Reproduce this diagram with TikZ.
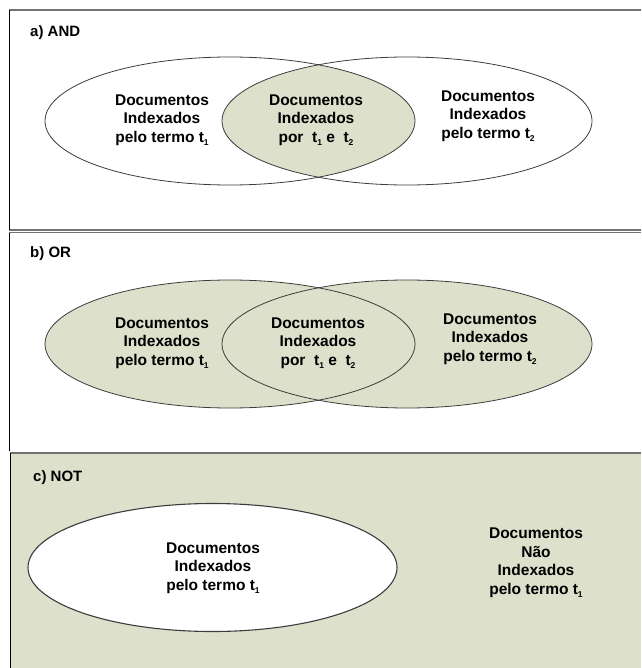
\documentclass[tikz,border=0pt]{standalone}
\usepackage{fontspec}
\setmainfont{Liberation Sans}
\definecolor{venn}{RGB}{221,224,203}
\definecolor{rim}{RGB}{60,60,60}
\newcommand{\idx}[1]{\raisebox{-0.4ex}{\fontsize{8.5}{8.5}\selectfont #1}}
\begin{document}
\begin{tikzpicture}[x=1pt,y=-1pt,
  panelrule/.style={draw=black!55, line width=1.8pt},
  sidebar/.style={draw=black, line width=1pt},
  setline/.style={draw=rim, line width=0.8pt},
  setlabel/.style={font=\bfseries\fontsize{15.5}{18.5}\selectfont, align=center, inner sep=0pt},
  tag/.style={font=\bfseries\fontsize{15}{17}\selectfont, anchor=west, inner sep=0pt}]
\useasboundingbox (0,0) rectangle (641,668);

% ---------- panel frames ----------
\fill[venn] (10,453) rectangle (641,668);
\draw[panelrule] (9,10) -- (641,10);
\draw[panelrule] (9,230) -- (641,230);
\draw[panelrule] (9,232.5) -- (641,232.5);
\draw[panelrule] (10,453) -- (641,453);
\draw[sidebar] (9,10) -- (9,230);
\draw[sidebar] (9,232.5) -- (9,451);
\draw[sidebar, line width=1.5pt] (10.5,453) -- (10.5,668);

% ---------- a) AND ----------
\begin{scope}
  \clip (230,121) ellipse [x radius=185, y radius=64];
  \fill[venn] (407,121) ellipse [x radius=185, y radius=64];
\end{scope}
\draw[setline] (230,121) ellipse [x radius=185, y radius=64];
\draw[setline] (407,121) ellipse [x radius=185, y radius=64];
\node[tag] (tagA) at (30,33) {a) AND};
\node[setlabel] (a1) at (162,120) {Documentos\\Indexados\\pelo termo t\idx{1}};
\node[setlabel] (a12) at (316,120) {Documentos\\Indexados\\por\ \ t\idx{1} e\ \ t\idx{2}};
\node[setlabel] (a2) at (488,116) {Documentos\\Indexados\\pelo termo t\idx{2}};

% ---------- b) OR ----------
\fill[venn] (230,344) ellipse [x radius=185, y radius=64];
\fill[venn] (407,344) ellipse [x radius=185, y radius=64];
\draw[setline] (230,344) ellipse [x radius=185, y radius=64];
\draw[setline] (407,344) ellipse [x radius=185, y radius=64];
\node[tag] (tagB) at (30,254) {b) OR};
\node[setlabel] (b1) at (162,343) {Documentos\\Indexados\\pelo termo t\idx{1}};
\node[setlabel] (b12) at (318,343) {Documentos\\Indexados\\por\ \ t\idx{1} e\ \ t\idx{2}};
\node[setlabel] (b2) at (490,339) {Documentos\\Indexados\\pelo termo t\idx{2}};

% ---------- c) NOT ----------
\fill[white] (212.5,567.5) ellipse [x radius=184.5, y radius=64];
\draw[setline, line width=1.1pt] (212.5,567.5) ellipse [x radius=184.5, y radius=64];
\node[tag] (tagC) at (33,478) {c) NOT};
\node[setlabel] (c1) at (213,568) {Documentos\\Indexados\\pelo termo t\idx{1}};
\node[setlabel] (c0) at (536,563) {Documentos\\Não\\Indexados\\pelo termo t\idx{1}};
\end{tikzpicture}
\end{document}
